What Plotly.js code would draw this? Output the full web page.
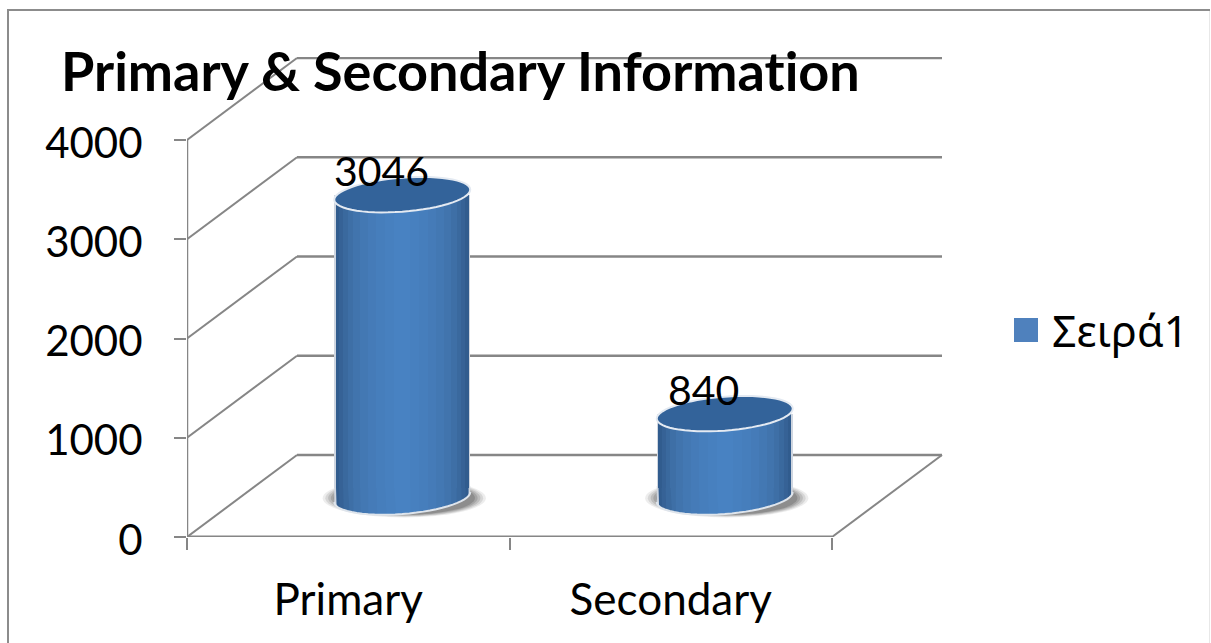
<!DOCTYPE html>
<html><head><meta charset="utf-8">
<script src="https://cdn.plot.ly/plotly-3.0.1.min.js"></script>
<style>
html,body{margin:0;padding:0;background:#fff;overflow:hidden}
#frame{position:absolute;left:7px;top:9px;width:1203px;height:640px;border:solid #8c8c8c;border-width:2px 0 0 2px;box-sizing:border-box}
#edge{position:absolute;left:1209px;top:11px;width:1px;height:632px;background:#e8e8e8}
#chart{position:absolute;left:0;top:0;width:1211px;height:643px}
svg text{font-variant-ligatures:none !important;font-feature-settings:"liga" 0,"clig" 0 !important}
.legend .legendpoints path{transform:translate(14px,0) scale(2) !important}
</style></head><body>
<div id="frame"></div><div id="edge"></div><div id="chart"></div>
<script>
const categories = ["Primary", "Secondary"];
const values = [3046, 840];
const seriesName = "Σειρά1";
const yTicks = [0, 1000, 2000, 3000, 4000];
const chartTitle = "Primary & Secondary Information";
const gridColor = "#868686";
const pxX = 322.5, pxY = 0.09925;          // pixels per x unit, pixels per value
const depthX = 110 / pxX, depthY = 82 / pxY; // oblique depth of the 3D box
const slotCentre = [0.5, 1.5];
const barCentre = slotCentre.map(c => c + 54 / pxX);
const barLift = 40 / pxY;                  // cylinder foot sits on the floor, behind the front edge
const bodyBase = 49 / pxY;
const barW = 136 / pxX;
const ry = 17 / pxY, tilt = 5 / pxY;       // ellipse half height and tilt, value units
// widest to narrowest stripe of the cylinder shading
const shadeWidths = [1, .975, .93, .87, .8, .72, .62, .5, .38, .25, .12];
const shadeColors = ["#cfd6e0", "#315c8e", "#366296", "#3a699e", "#3e6fa6", "#4174ad", "#4378b3", "#457bb8", "#467ebc", "#4780bf", "#4882c2"];

function ellipsePoints(cx, cy, fromDeg, toDeg, w) {
  const pts = [];
  for (let a = fromDeg; a <= toDeg; a += 6) {
    const t = a * Math.PI / 180;
    pts.push([cx + w / 2 * Math.cos(t), cy + ry * Math.sin(t) + tilt * Math.cos(t)]);
  }
  return pts;
}
const toPath = (pts, close) => "M" + pts.map(p => p[0].toFixed(4) + "," + p[1].toFixed(1)).join("L") + (close ? "Z" : "");

const shapes = [];
const line = (x0, y0, x1, y1, width) => shapes.push({type:"line", layer:"below", xref:"x", yref:"y", x0, y0, x1, y1, line:{color:gridColor, width:width || 2.5}});
yTicks.forEach(v => {
  line(0, v, depthX, v + depthY, 2);
  line(depthX, v + depthY, 2 + depthX, v + depthY);
});
line(0, 0, 0, 4000);
line(0, 0, 2, 0, 3);
line(2, 0, 2 + depthX, depthY, 2);

barCentre.forEach((cx, i) => {
  const foot = barLift;
  // soft shadow
  [[1.2, .1], [1.16, .14], [1.12, .18], [1.08, .22], [1.04, .28]].forEach(s => shapes.push({type:"circle", layer:"below", xref:"x", yref:"y",
    x0: cx + 2 / pxX - barW / 2 * s[0], x1: cx + 2 / pxX + barW / 2 * s[0],
    y0: foot - 17 / pxY * s[0], y1: foot + 15 / pxY * s[0],
    fillcolor: "#505050", opacity: s[1], line: {width: 0}}));
  // lower curve of the cylinder, one stripe per shade
  shadeWidths.forEach((f, k) => {
    const n = [];
    const half = Math.acos(f) * 180 / Math.PI;
    for (let a = half; a <= 180 - half + .01; a += 4) {
      const t = -a * Math.PI / 180;
      n.push([cx + barW / 2 * Math.cos(t), foot + ry * Math.sin(t) + tilt * Math.cos(t)]);
    }
    const pts = [[cx + barW * f / 2, bodyBase + 20], ...n, [cx - barW * f / 2, bodyBase + 20]];
    shapes.push({type:"path", layer:"below", xref:"x", yref:"y", path: toPath(pts, true), fillcolor: shadeColors[k], line:{width:0}});
  });
  shapes.push({type:"path", layer:"below", xref:"x", yref:"y", path: toPath(ellipsePoints(cx, foot, -180, 0, barW), false), fillcolor:"rgba(0,0,0,0)", line:{color:"#dfe5ec", width:2}});
  // top cap, placed by the value
  shapes.push({type:"path", layer:"above", xref:"x", yref:"y", path: toPath(ellipsePoints(cx, values[i] + barLift, 0, 360, barW), true),
    fillcolor:"#33639a", line:{color:"#e4eaf2", width:2}});
});

const traces = shadeWidths.map((f, k) => ({
  type:"bar", x:barCentre, y:values.map(v => v + barLift - bodyBase), base:bodyBase, width:barW * f,
  marker:{color:shadeColors[k], line:{width:0}},
  showlegend:false, hoverinfo:"skip"
}));
traces.push({type:"bar", x:barCentre, y:[0,0], base:0, width:0, name:seriesName, showlegend:true, marker:{color:"#4f81bd", line:{width:0}}, hoverinfo:"skip"});

const font = "Lato, 'Noto Sans', sans-serif";
const annotations = values.map((v, i) => ({xref:"x", yref:"y", x:barCentre[i] - 21 / pxX, y:v + barLift + 24 / pxY,
  text:String(v), showarrow:false, font:{family:font, size:41, color:"#000"}}));

Plotly.newPlot("chart", traces, {
  width:1211, height:643, autosize:false, barmode:"overlay", bargap:0,
  paper_bgcolor:"rgba(0,0,0,0)", plot_bgcolor:"rgba(0,0,0,0)",
  margin:{l:187, r:266, t:57, b:106, pad:0},
  font:{family:font, color:"#000"},
  title:{text:"<b>" + chartTitle + "</b>", x:61/1211, xanchor:"left", y:1-72/643, yanchor:"middle", font:{family:font, size:54, color:"#000"}},
  xaxis:{range:[0, 758/pxX], tickmode:"array", tickvals:slotCentre, ticktext:categories, ticks:"", showgrid:false, zeroline:false, showline:false,
    tickfont:{family:font, size:44}, ticklabelstandoff:33,
    minor:{tickmode:"array", tickvals:[0,1,2], ticks:"outside", ticklen:12, tickwidth:2, tickcolor:gridColor, showgrid:false}},
  yaxis:{range:[0, 480/pxY], tickmode:"array", tickvals:yTicks, ticks:"outside", ticklen:12, tickwidth:2, tickcolor:gridColor, showgrid:false, zeroline:false, showline:false,
    tickfont:{family:font, size:42}, ticklabelstandoff:23, ticklabelshift:3},
  showlegend:true,
  legend:{x:(1012-187)/758, xanchor:"left", y:(537-330)/480, yanchor:"middle", font:{family:"'Noto Sans', sans-serif", size:43}, bgcolor:"rgba(0,0,0,0)", borderwidth:0},
  shapes, annotations
}, {staticPlot:true, displayModeBar:false});
</script></body></html>
